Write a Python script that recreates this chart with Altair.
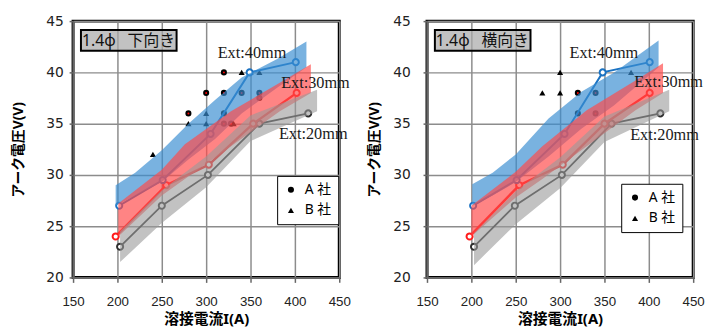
import altair as alt
import pandas as pd

SERIES = ["Ext:20mm", "Ext:30mm", "Ext:40mm"]
LINE_COLORS = ["#2e2e2e", "#ff1a1a", "#1a72c2"]
LINE_WIDTHS = [1.8, 2.4, 2.0]
BAND_COLORS = ["#9a9a9a", "#ff4a4a", "#3a8ed2"]
BAND_OPACITY = [0.6, 0.68, 0.68]
COMPANIES = ["A 社", "B 社"]
X_TICKS = [150, 200, 250, 300, 350, 400, 450]
Y_TICKS = [20, 25, 30, 35, 40, 45]
PANEL_TITLES = ["1.4ϕ\u2002\u00a0下向き", "1.4ϕ\u2002\u00a0横向き"]

# ---------- left panel: 下向き ----------
L_I20 = [203, 250, 302, 360, 415]
L_V20 = [23, 27, 30, 35, 36]
L_I30 = [198, 255, 303, 353, 402]
L_V30 = [24, 29, 31, 35, 38]
L_I40 = [202, 251, 305, 349, 401]
L_V40 = [27, 29.5, 34, 40, 41]
L_A_I = [280, 300, 320, 320, 320, 320, 328, 340, 360, 360]
L_A_V = [36, 38, 40, 38, 36, 35, 35, 38, 38, 37.5]
L_B_I = [240, 280, 300, 300, 331, 340, 350, 360]
L_B_V = [32, 35, 36, 35, 35, 40, 40, 40]
L_BAND20_I = [203, 250, 300, 350, 425]
L_BAND20_LO = [21.5, 25.3, 28.8, 33.3, 36.2]
L_BAND20_HI = [24.5, 28.5, 31.8, 35.8, 38.3]
L_BAND30_I = [201, 250, 276, 328, 383, 418]
L_BAND30_LO = [24, 28, 29.6, 32.8, 36.2, 38]
L_BAND30_HI = [27.2, 30.5, 33, 36.2, 39, 40.8]
L_BAND40_I = [198, 220, 250, 280, 310, 340, 380, 413]
L_BAND40_LO = [27, 28, 29.3, 31.5, 33.5, 36, 38.5, 40.5]
L_BAND40_HI = [29, 30.2, 32.4, 35, 37.3, 39.5, 41.3, 43]
L_LABEL_I = [382, 384.5, 313]
L_LABEL_V = [34.0, 39.0, 41.9]

# ---------- right panel: 横向き ----------
R_I20 = [203, 249, 302, 358, 413]
R_V20 = [23, 27, 30, 35, 36]
R_I30 = [198, 254, 303, 350, 401]
R_V30 = [24, 29, 31, 35, 38]
R_I40 = [202, 251, 305, 348, 401]
R_V40 = [27, 29.5, 34, 40, 41]
R_A_I = [320, 340, 320, 340]
R_A_V = [38, 38, 36, 36]
R_B_I = [280, 300, 300, 380]
R_B_V = [38, 38, 40, 40]
R_BAND20_I = [203, 250, 300, 350, 423]
R_BAND20_LO = [21.2, 25.2, 28.7, 33.2, 36.2]
R_BAND20_HI = [24.3, 28.4, 31.7, 35.7, 38.3]
R_BAND30_I = [200, 250, 280, 330, 385, 416]
R_BAND30_LO = [24, 27.8, 29.6, 32.8, 36.3, 38]
R_BAND30_HI = [27, 30.3, 32.8, 36.3, 39.2, 40.9]
R_BAND40_I = [201, 224, 250, 287, 324, 361, 411]
R_BAND40_LO = [27, 28, 29.3, 31.8, 34.5, 36.8, 40.5]
R_BAND40_HI = [29.1, 30.2, 32, 35.5, 38.1, 40, 43.1]
R_LABEL_I = [379, 383.7, 310.7]
R_LABEL_V = [33.9, 39.1, 41.9]

X_TITLE = "溶接電流I(A)"
Y_TITLE = "アーク電圧V(V)"
CJK = "Noto Sans, Noto Sans CJK JP"


def build_panel(lines, a_pts, b_pts, bands, labels, title, leg_xy, y_lpad, y_tpad, x_tpad):
    x_axis = alt.Axis(values=X_TICKS, title=X_TITLE, tickSize=5, labelPadding=12,
                      labelFont="Liberation Sans", labelFontSize=13.5, labelColor="#222",
                      titleFont=CJK, titleFontSize=15, titleFontWeight="bold",
                      titleColor="black", titlePadding=x_tpad, labelFlush=False)
    y_axis = alt.Axis(values=Y_TICKS, title=Y_TITLE, tickSize=4, labelPadding=y_lpad,
                      labelFont="DejaVu Sans", labelFontSize=14, labelColor="#222",
                      titleFont=CJK, titleFontSize=14, titleFontWeight="bold",
                      titleColor="black", titlePadding=y_tpad)
    xs = alt.Scale(domain=[150, 450], nice=False, zero=False)
    ys = alt.Scale(domain=[20, 45], nice=False, zero=False)

    def X(f):
        return alt.X(f"{f}:Q", scale=xs, axis=x_axis)

    def Y(f):
        return alt.Y(f"{f}:Q", scale=ys, axis=y_axis)

    sc = pd.DataFrame({
        "I": a_pts[0] + b_pts[0],
        "V": a_pts[1] + b_pts[1],
        "company": [COMPANIES[0]] * len(a_pts[0]) + [COMPANIES[1]] * len(b_pts[0]),
    })
    sc_a = pd.DataFrame({"I": a_pts[0], "V": a_pts[1]})
    leg = alt.Legend(title=None, orient="none", legendX=leg_xy[0], legendY=leg_xy[1],
                     padding=7, strokeColor="black", fillColor="white",
                     labelFont=CJK, labelFontSize=14, labelColor="black",
                     symbolSize=38, symbolFillColor="black", symbolStrokeWidth=0,
                     rowPadding=7, labelOffset=7, cornerRadius=0)
    layers = [
        alt.Chart(sc).mark_point(filled=True, color="black", size=38, opacity=1).encode(
            x=X("I"), y=Y("V"),
            shape=alt.Shape("company:N", scale=alt.Scale(domain=COMPANIES, range=["circle", "triangle-up"]), legend=leg),
        ),
        alt.Chart(sc_a).mark_point(filled=True, color="#ff0000", size=4, opacity=1, shape="circle").encode(
            x=X("I"), y=Y("V"),
        ),
    ]
    for k in range(3):
        df = pd.DataFrame({"I": lines[k][0], "V": lines[k][1]})
        layers.append(
            alt.Chart(df).mark_line(
                color=LINE_COLORS[k], strokeWidth=LINE_WIDTHS[k],
                point=alt.OverlayMarkDef(filled=False, fill="white", stroke=LINE_COLORS[k],
                                         size=38, strokeWidth=2, opacity=1),
            ).encode(x=X("I"), y=Y("V"))
        )
    for k in [2, 1, 0]:
        df = pd.DataFrame({"I": bands[k][0], "lo": bands[k][1], "hi": bands[k][2]})
        layers.append(
            alt.Chart(df).mark_area(color=BAND_COLORS[k], opacity=BAND_OPACITY[k]).encode(
                x=X("I"), y=Y("lo"), y2=alt.Y2("hi"))
        )
    lab = pd.DataFrame({"I": labels[0], "V": labels[1], "label": SERIES})
    layers.append(
        alt.Chart(lab).mark_text(font="Liberation Serif", fontSize=16.5, align="left",
                                 baseline="middle", color="#1a1a1a").encode(
            x=X("I"), y=Y("V"), text="label:N")
    )
    tdf = pd.DataFrame({"t": [title]})
    layers.append(
        alt.Chart(tdf).mark_rect(fill="#a8a8a8", fillOpacity=0.7, stroke="black", strokeWidth=2).encode(
            x=alt.value(8), x2=alt.value(105), y=alt.value(9), y2=alt.value(30))
    )
    layers.append(
        alt.Chart(tdf).mark_text(font=CJK, fontSize=16, align="left", baseline="middle", color="#111").encode(
            x=alt.value(9), y=alt.value(20), text="t:N")
    )
    return alt.layer(*layers).properties(width=270, height=260)


left = build_panel(
    [(L_I20, L_V20), (L_I30, L_V30), (L_I40, L_V40)],
    (L_A_I, L_A_V), (L_B_I, L_B_V),
    [(L_BAND20_I, L_BAND20_LO, L_BAND20_HI), (L_BAND30_I, L_BAND30_LO, L_BAND30_HI),
     (L_BAND40_I, L_BAND40_LO, L_BAND40_HI)],
    (L_LABEL_I, L_LABEL_V), PANEL_TITLES[0], (207, 157), 6, 20, 4)

right = build_panel(
    [(R_I20, R_V20), (R_I30, R_V30), (R_I40, R_V40)],
    (R_A_I, R_A_V), (R_B_I, R_B_V),
    [(R_BAND20_I, R_BAND20_LO, R_BAND20_HI), (R_BAND30_I, R_BAND30_LO, R_BAND30_HI),
     (R_BAND40_I, R_BAND40_LO, R_BAND40_HI)],
    (R_LABEL_I, R_LABEL_V), PANEL_TITLES[1], (197, 165), 13, 11, 4)

chart = alt.hconcat(left, right, spacing=89, bounds="flush").resolve_scale(
    shape="independent"
).resolve_legend(shape="independent").properties(
    padding={"left": 2, "top": 2, "right": 0, "bottom": 0}
).configure_view(stroke="black", strokeWidth=3).configure_axis(
    gridColor="#8c8c8c", gridWidth=1.5, gridOpacity=1,
    domainColor="#666666", domainWidth=2, tickColor="#666666", tickWidth=1.5,
)

chart.save("out.html", embed_options={"renderer": "svg", "actions": False})
